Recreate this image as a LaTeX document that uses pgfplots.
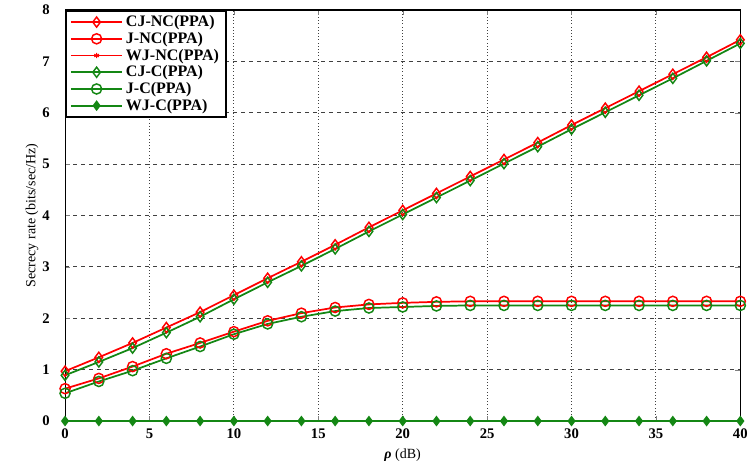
\documentclass[border=0pt]{standalone}
\usepackage{fontspec}
\setmainfont{Liberation Serif}
\usepackage{pgfplots}
\pgfplotsset{compat=1.18}
\definecolor{myred}{rgb}{1,0,0}
\definecolor{mygreen}{RGB}{20,135,20}
\begin{document}
\begin{tikzpicture}
\begin{axis}[
  scale only axis,
  width=506pt, height=308pt,
  xmin=0, xmax=40, ymin=0, ymax=8,
  xtick={0,5,...,40}, ytick={0,1,...,8},
  /pgf/number format/assume math mode=true,
  ticklabel style={font=\fontsize{11}{13}\selectfont\bfseries},
  xticklabel style={yshift=-2pt},
  yticklabel style={xshift=-8pt},
  tick align=inside,
  major tick length=4pt,
  axis line style={line width=0.8pt},
  xmajorgrids, ymajorgrids,
  major x grid style={dotted, black!75, line width=0.7pt},
  major y grid style={dashed, black!75, line width=0.7pt},
  xlabel={{\bfseries\itshape ρ} (dB)},
  ylabel={Secrecy rate (bits/sec/Hz)},
  label style={font=\fontsize{10.5}{12}\selectfont},
  xlabel style={yshift=-1pt},
  ylabel style={yshift=-4pt},
  clip=false,
  legend style={at={(0,1)}, anchor=north west, draw=black, line width=1.3pt,
    font=\fontsize{12}{13}\selectfont\bfseries, cells={anchor=west},
    row sep=-1.3pt, inner xsep=3pt, inner ysep=1.5pt},
  legend image code/.code={\draw[mark repeat=2,mark phase=2] plot coordinates {(0cm,0cm)(0.68cm,0cm)(1.36cm,0cm)};},
  every axis plot/.append style={line width=1.3pt},
]
\addplot[myred, mark=diamond, mark size=3.8pt, mark options={solid, line width=1.1pt}] coordinates {
(0,0.97)(2,1.24)(4,1.52)(6,1.82)(8,2.12)(10,2.45)(12,2.78)(14,3.10)(16,3.43)(18,3.77)(20,4.10)(22,4.43)(24,4.76)(26,5.09)(28,5.42)(30,5.76)(32,6.09)(34,6.42)(36,6.75)(38,7.08)(40,7.42)};
\addlegendentry{CJ-NC(PPA)}
\addplot[myred, mark=o, mark size=3.8pt, mark options={solid, line width=1.1pt}] coordinates {
(0,0.63)(2,0.83)(4,1.06)(6,1.31)(8,1.52)(10,1.74)(12,1.95)(14,2.10)(16,2.21)(18,2.27)(20,2.30)(22,2.32)(24,2.33)(26,2.33)(28,2.33)(30,2.33)(32,2.33)(34,2.33)(36,2.33)(38,2.33)(40,2.33)};
\addlegendentry{J-NC(PPA)}
\addplot[myred, line width=0.8pt, mark=asterisk, mark size=2pt] coordinates {
(0,0)(2,0)(4,0)(6,0)(8,0)(10,0)(12,0)(14,0)(16,0)(18,0)(20,0)(22,0)(24,0)(26,0)(28,0)(30,0)(32,0)(34,0)(36,0)(38,0)(40,0)};
\addlegendentry{WJ-NC(PPA)}
\addplot[mygreen, mark=diamond, mark size=3.8pt, mark options={solid, line width=1.1pt}] coordinates {
(0,0.89)(2,1.15)(4,1.42)(6,1.72)(8,2.03)(10,2.37)(12,2.70)(14,3.02)(16,3.35)(18,3.69)(20,4.02)(22,4.35)(24,4.68)(26,5.01)(28,5.34)(30,5.68)(32,6.01)(34,6.34)(36,6.67)(38,7.01)(40,7.35)};
\addlegendentry{CJ-C(PPA)}
\addplot[mygreen, mark=o, mark size=3.8pt, mark options={solid, line width=1.1pt}] coordinates {
(0,0.54)(2,0.77)(4,0.98)(6,1.22)(8,1.45)(10,1.69)(12,1.89)(14,2.03)(16,2.14)(18,2.20)(20,2.22)(22,2.24)(24,2.25)(26,2.25)(28,2.25)(30,2.25)(32,2.25)(34,2.25)(36,2.25)(38,2.25)(40,2.25)};
\addlegendentry{J-C(PPA)}
\addplot[mygreen, mark=diamond*, mark size=3pt, mark options={solid}] coordinates {
(0,0)(2,0)(4,0)(6,0)(8,0)(10,0)(12,0)(14,0)(16,0)(18,0)(20,0)(22,0)(24,0)(26,0)(28,0)(30,0)(32,0)(34,0)(36,0)(38,0)(40,0)};
\addlegendentry{WJ-C(PPA)}
\end{axis}
\pgfresetboundingbox
\path ([xshift=-48.75pt,yshift=-36.75pt]current axis.south west) rectangle ([xshift=6.5pt,yshift=7.5pt]current axis.north east);
\end{tikzpicture}
\end{document}
